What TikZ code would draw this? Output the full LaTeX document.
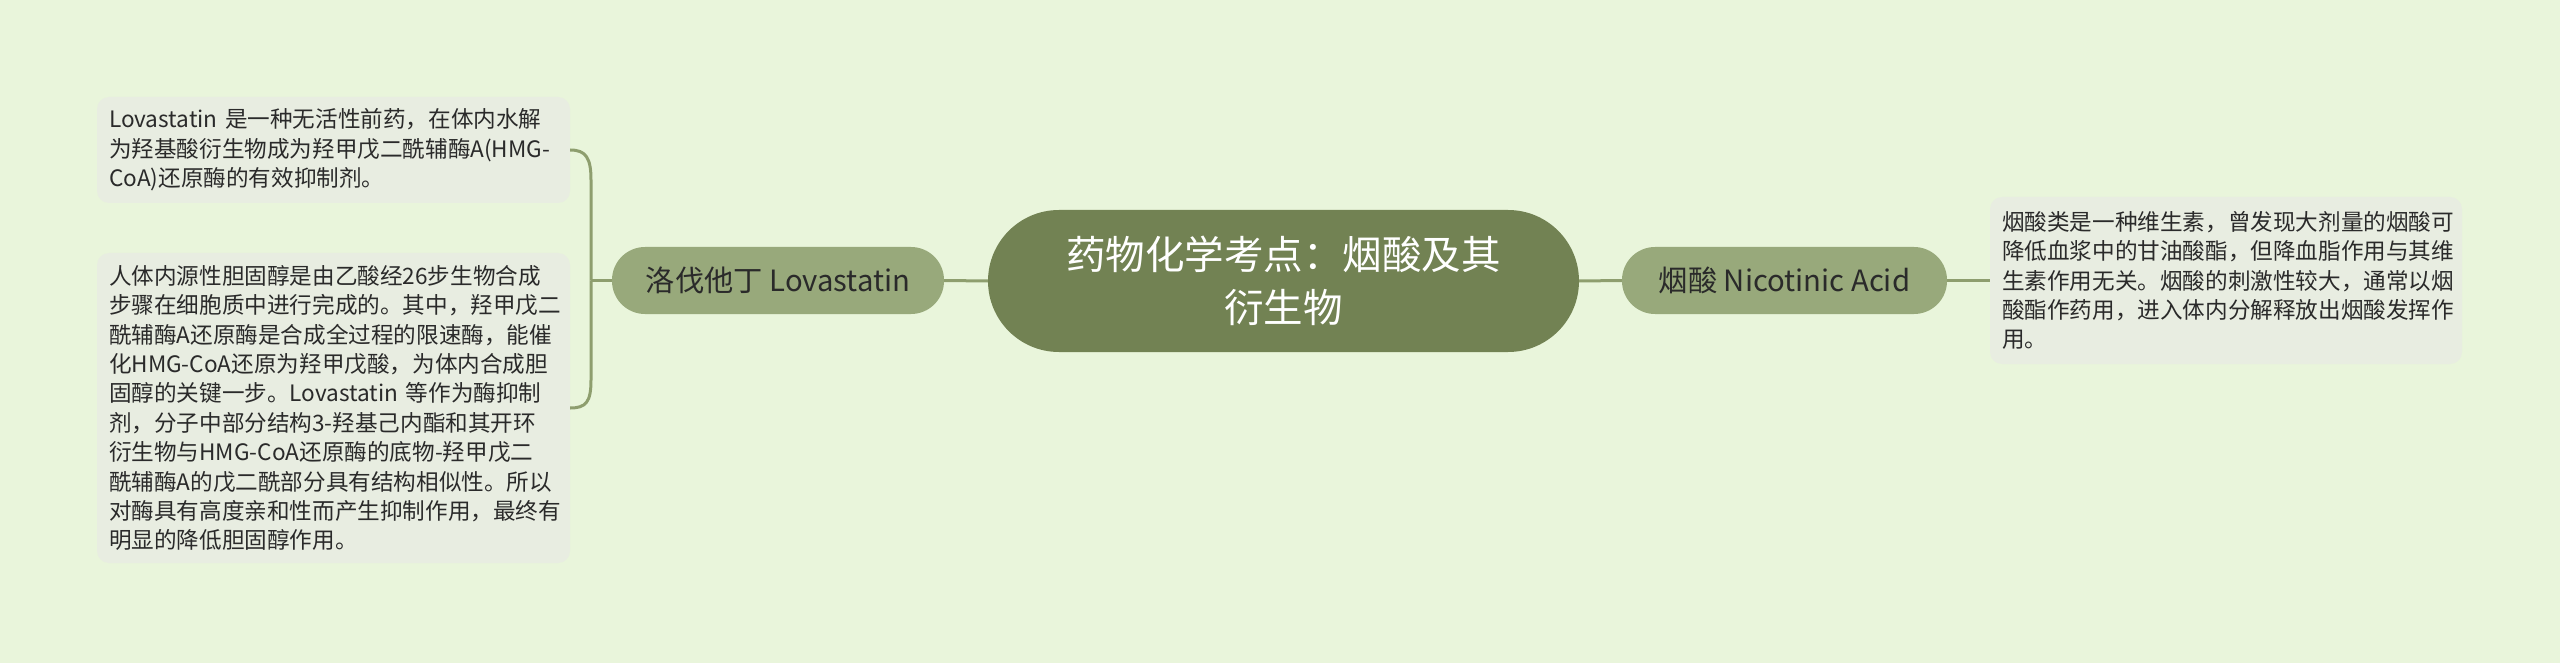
\documentclass[tikz,border=0pt]{standalone}
\usepackage{fontspec}
\setmainfont{Noto Sans CJK SC}
\definecolor{bgc}{HTML}{E9F5DB}
\definecolor{rootc}{HTML}{728253}
\definecolor{subc}{HTML}{98A97B}
\definecolor{linec}{HTML}{8E9E6E}
\definecolor{boxc}{HTML}{E8EDE1}
\definecolor{txtc}{HTML}{2A2A2A}
\tikzset{
  rootnode/.style={fill=rootc, rounded corners=71pt, minimum width=591pt, minimum height=142pt,
    inner sep=0pt, align=center, text=white, font=\fontsize{39.5}{53}\selectfont},
  subnode/.style={fill=subc, rounded corners=33pt, minimum height=67pt, inner sep=0pt,
    text=txtc, font=\fontsize{29.3}{35}\selectfont},
  leafnode/.style={fill=boxc, rounded corners=12pt, inner xsep=12pt, inner ysep=0pt,
    align=left, text=txtc, font=\fontsize{22.6}{29.4}\selectfont},
  conn/.style={draw=linec, line width=3pt},
}
\begin{document}
\begin{tikzpicture}[x=1pt, y=-1pt]
\fill[bgc] (0,0) rectangle (2560,663);
\useasboundingbox (0,0) rectangle (2560,663);

\node[rootnode] (root) at (1283.5,281) {药物化学考点：烟酸及其\\衍生物};
\node[subnode, minimum width=332pt] (lov) at (778,280.5) {洛伐他丁 Lovastatin};
\node[subnode, minimum width=325pt] (nic) at (1784.5,280.5) {烟酸 Nicotinic Acid};

\node[leafnode, text width=449pt, minimum height=106pt] (b1) at (333.5,150) {Lovastatin 是一种无活性前药，在体内水解\\为羟基酸衍生物成为羟甲戊二酰辅酶A(HMG-\\CoA)还原酶的有效抑制剂。};
\node[leafnode, text width=449pt, minimum height=310pt] (b2) at (333.5,408) {人体内源性胆固醇是由乙酸经26步生物合成\\步骤在细胞质中进行完成的。其中，羟甲戊二\\酰辅酶A还原酶是合成全过程的限速酶，能催\\化HMG-CoA还原为羟甲戊酸，为体内合成胆\\固醇的关键一步。Lovastatin 等作为酶抑制\\剂，分子中部分结构3-羟基己内酯和其开环\\衍生物与HMG-CoA还原酶的底物-羟甲戊二\\酰辅酶A的戊二酰部分具有结构相似性。所以\\对酶具有高度亲和性而产生抑制作用，最终有\\明显的降低胆固醇作用。};
\node[leafnode, text width=448pt, minimum height=167pt] (b3) at (2226,280.5) {烟酸类是一种维生素，曾发现大剂量的烟酸可\\降低血浆中的甘油酸酯，但降血脂作用与其维\\生素作用无关。烟酸的刺激性较大，通常以烟\\酸酯作药用，进入体内分解释放出烟酸发挥作\\用。};

\coordinate (fork) at (591,280.5);
\draw[conn] (root.west) -- (lov.east);
\draw[conn] (root.east) -- (nic.west);
\draw[conn] (nic.east) -- (b3.west);
\draw[conn] (lov.west) -- (fork);
\draw[conn] (fork) -- (591,180) .. controls (591,158) and (586,150) .. (b1.east);
\draw[conn] (fork) -- (591,380) .. controls (591,402) and (586,408) .. (b2.east);
\end{tikzpicture}
\end{document}
